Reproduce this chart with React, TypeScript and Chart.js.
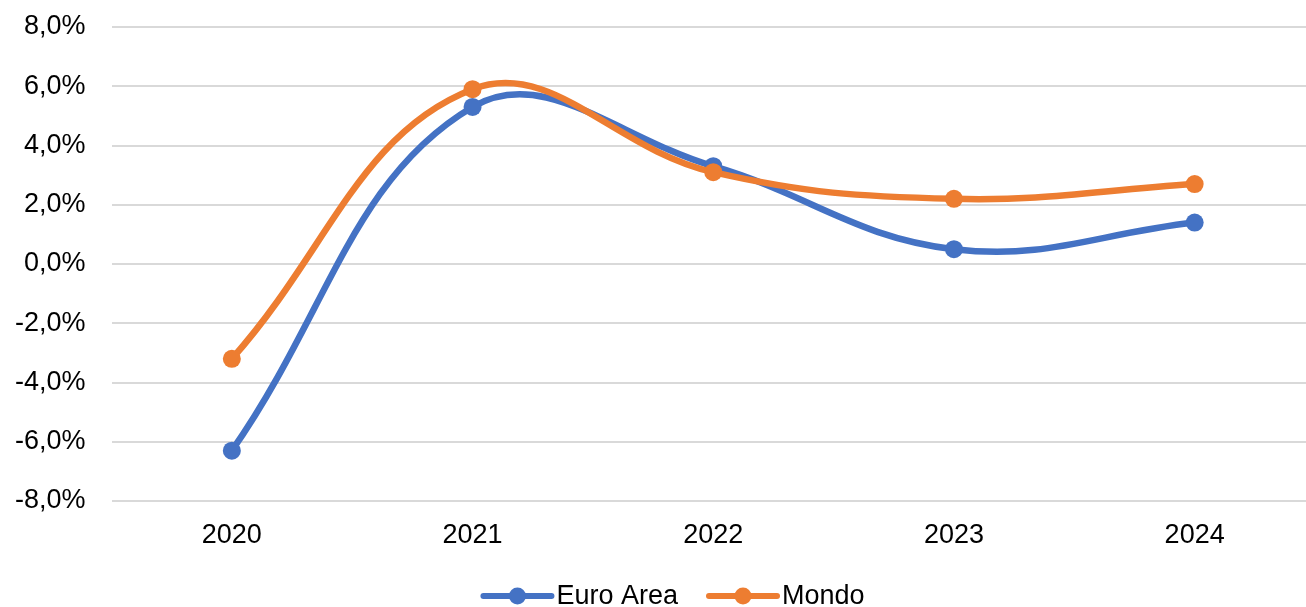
import React, { useEffect, useRef } from "react";
import { Chart, registerables } from "chart.js";

Chart.register(...registerables);

const categories = ["2020", "2021", "2022", "2023", "2024"];
const euroArea = [-6.3, 5.3, 3.3, 0.5, 1.4];
const mondo = [-3.2, 5.9, 3.1, 2.2, 2.7];
const seriesNames = ["Euro Area", "Mondo"];
const seriesColors = ["#4472C4", "#ED7D31"];

const FONT = "'Liberation Sans', Arial, sans-serif";
const FONT_SIZE = 27;

const legendPlugin = {
  id: "customLegend",
  afterDraw(chart: any) {
    const ctx = chart.ctx as CanvasRenderingContext2D;
    ctx.save();
    ctx.font = `${FONT_SIZE}px ${FONT}`;
    const lineLen = 68;
    const textGap = 5;
    const itemGap = 31;
    const widths = seriesNames.map((n) => lineLen + textGap + ctx.measureText(n).width);
    const total = widths.reduce((a, b) => a + b, 0) + itemGap * (seriesNames.length - 1);
    let x = 674 - total / 2;
    const y = 596;
    seriesNames.forEach((name, i) => {
      ctx.strokeStyle = seriesColors[i];
      ctx.lineWidth = 6;
      ctx.lineCap = "round";
      ctx.beginPath();
      ctx.moveTo(x, y);
      ctx.lineTo(x + lineLen, y);
      ctx.stroke();
      ctx.fillStyle = seriesColors[i];
      ctx.beginPath();
      ctx.arc(x + lineLen / 2, y, 8.5, 0, Math.PI * 2);
      ctx.fill();
      ctx.fillStyle = "#000";
      ctx.textAlign = "left";
      ctx.textBaseline = "middle";
      ctx.fillText(name, x + lineLen + textGap, y + 1);
      x += widths[i] + itemGap;
    });
    ctx.restore();
  },
};

export default function App() {
  const ref = useRef<HTMLCanvasElement>(null);
  useEffect(() => {
    if (!ref.current) return;
    const chart = new Chart(ref.current, {
      type: "line",
      data: {
        labels: categories,
        datasets: [
          {
            label: seriesNames[0],
            data: euroArea,
            borderColor: seriesColors[0],
            backgroundColor: seriesColors[0],
            borderWidth: 6.5,
            pointRadius: 9,
            pointBorderWidth: 0,
            tension: 0.4,
            order: 1,
          },
          {
            label: seriesNames[1],
            data: mondo,
            borderColor: seriesColors[1],
            backgroundColor: seriesColors[1],
            borderWidth: 6.5,
            pointRadius: 9,
            pointBorderWidth: 0,
            tension: 0.4,
            order: 0,
          },
        ],
      },
      options: {
        responsive: false,
        animation: false,
        layout: { padding: { top: 27, left: 0, right: 0, bottom: 0 } },
        plugins: {
          legend: { display: false },
          tooltip: { enabled: false },
        },
        scales: {
          x: {
            offset: true,
            grid: { display: false, drawTicks: false },
            border: { display: false },
            ticks: {
              color: "#000",
              font: { family: FONT, size: FONT_SIZE },
              padding: 18,
              maxRotation: 0,
            },
            afterFit: (scale: any) => {
              scale.height = 106;
              scale.paddingLeft = 0;
              scale.paddingRight = 0;
            },
          },
          y: {
            min: -8,
            max: 8,
            grid: { color: "#d9d9d9", lineWidth: 2, drawTicks: false },
            border: { display: false },
            ticks: {
              stepSize: 2,
              color: "#000",
              font: { family: FONT, size: FONT_SIZE },
              padding: 26,
              callback: (v: any) => Number(v).toFixed(1).replace(".", ",") + "%",
            },
            afterFit: (scale: any) => {
              scale.width = 111.5;
              scale.paddingTop = 0;
              scale.paddingBottom = 0;
            },
          },
        },
      },
      plugins: [legendPlugin],
    });
    return () => chart.destroy();
  }, []);
  return (
    <div
      style={{
        position: "fixed",
        left: 0,
        top: 0,
        width: 1306,
        height: 607,
        overflow: "hidden",
        background: "#fff",
      }}
    >
      <canvas ref={ref} width={1324} height={607} style={{ display: "block" }} />
    </div>
  );
}
